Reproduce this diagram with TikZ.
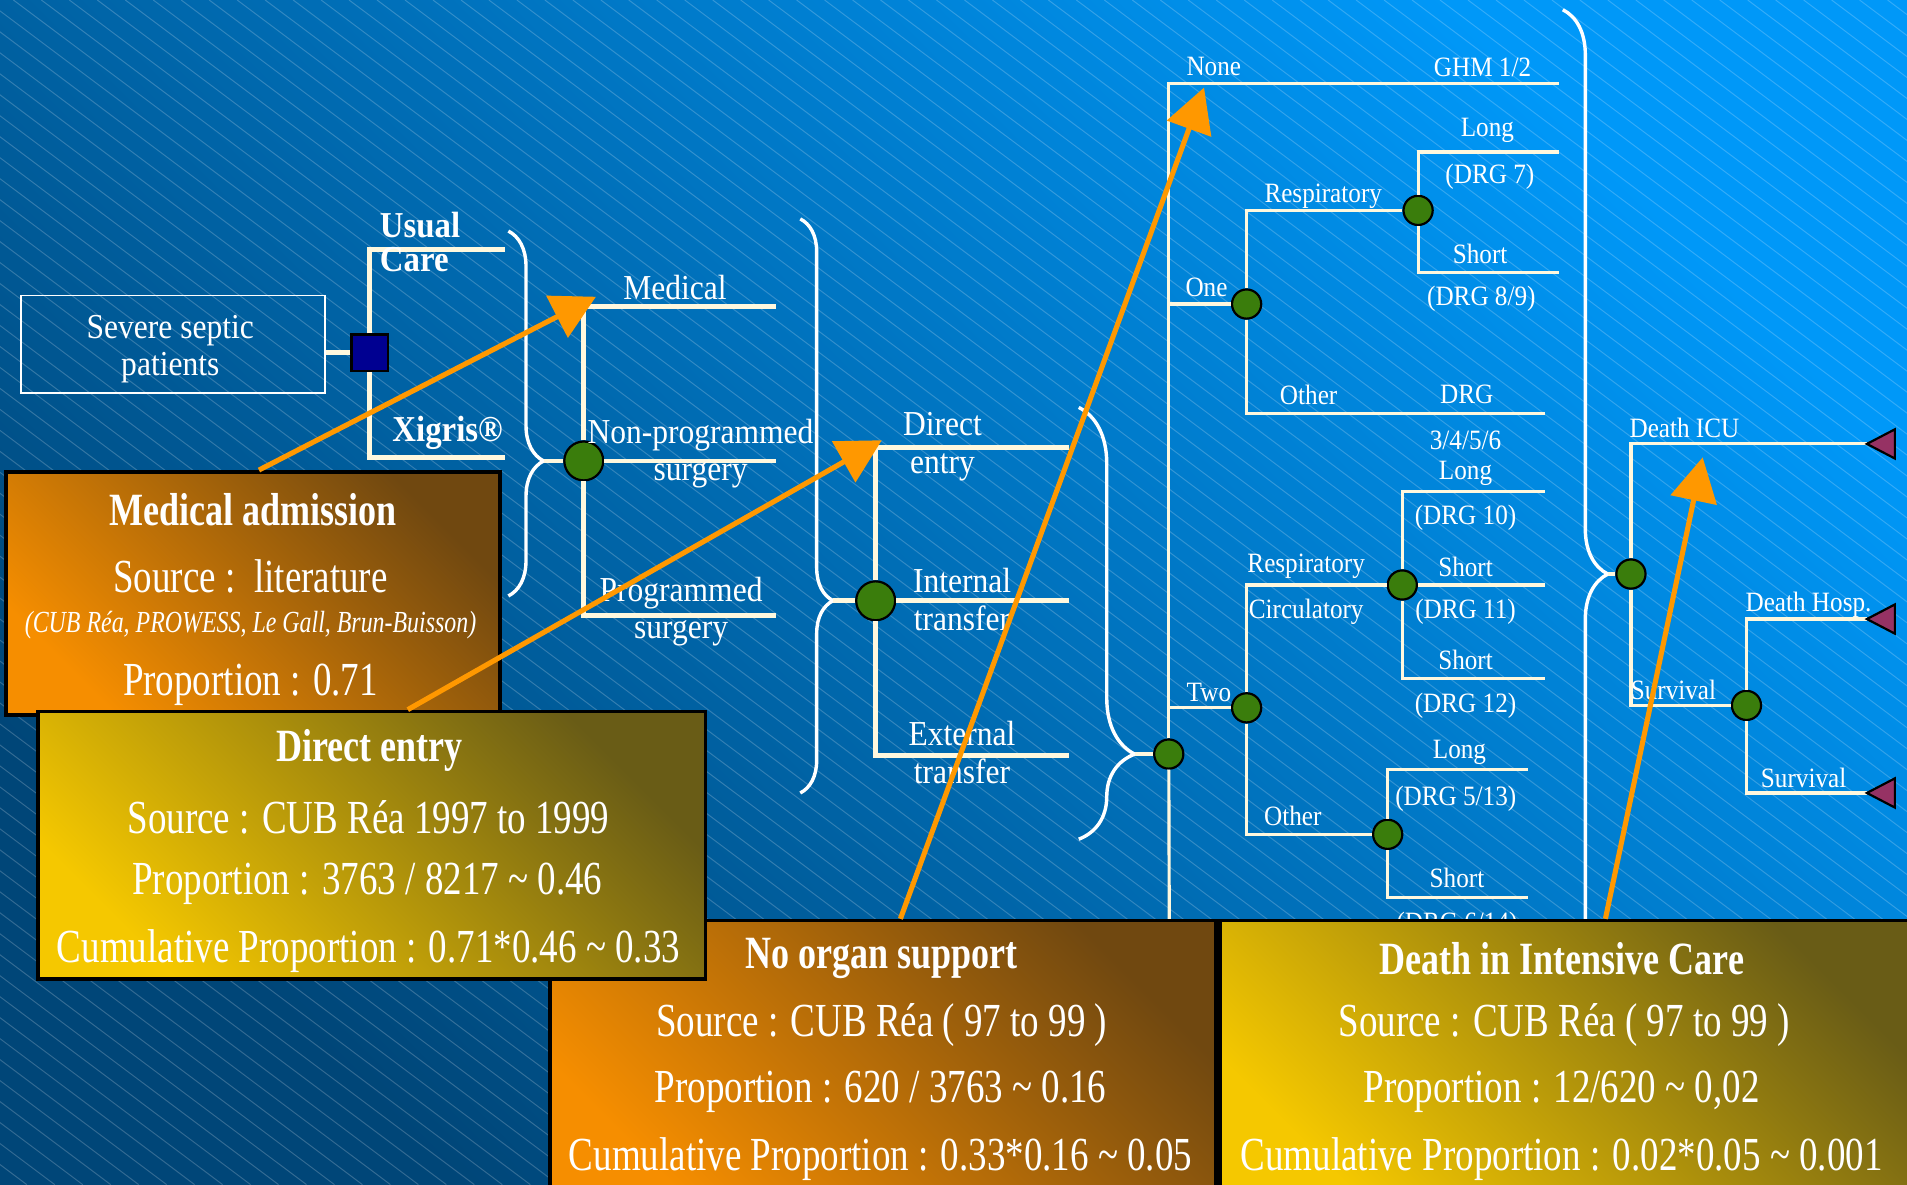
\documentclass[tikz,border=0pt]{standalone}
\usepackage{fontspec}
\setmainfont{Liberation Serif}[FakeStretch=0.9]
\newfontfamily\boxfont{Liberation Serif}[FakeStretch=0.78]
\usetikzlibrary{arrows.meta,calc,decorations.pathreplacing}

\definecolor{bgdark}{RGB}{0,70,120}
\definecolor{bglight}{RGB}{0,152,248}
\definecolor{cream}{RGB}{255,248,222}
\definecolor{nodegreen}{RGB}{58,125,12}
\definecolor{sqblue}{RGB}{0,0,145}
\definecolor{termpurple}{RGB}{150,50,100}
\definecolor{arrorange}{RGB}{255,152,0}
\definecolor{orglight}{RGB}{246,142,0}
\definecolor{orgdark}{RGB}{112,72,16}
\definecolor{yellight}{RGB}{245,200,0}
\definecolor{yeldark}{RGB}{105,92,22}
\newcommand{\tld}{\textasciitilde}

\begin{document}
\begin{tikzpicture}[
  x=0.5pt, y=-0.5pt,
  branch/.style={draw=cream, line width=2pt},
  twig/.style={draw=cream, line width=1.3pt},
  tbrace/.style={draw=white, line width=1.4pt, decorate},
  chance/.style={circle, fill=nodegreen, draw=black, line width=0.9pt, minimum size=16pt, inner sep=0pt},
  smallchance/.style={chance, minimum size=12pt},
  decision/.style={rectangle, fill=sqblue, draw=black, line width=0.9pt, minimum size=15pt, inner sep=0pt},
  terminal/.style={fill=termpurple, draw=black, line width=0.9pt},
  biglbl/.style={text=white, inner sep=0pt, align=center, font=\fontsize{14.4}{15.5}\selectfont},
  smalllbl/.style={text=white, inner sep=0pt, font=\fontsize{11.5}{13}\selectfont},
  infobox/.style={draw=black, line width=1.5pt, inner sep=0pt},
  orangebox/.style={infobox, top color=orgdark, bottom color=orglight, shading angle=-45},
  yellowbox/.style={infobox, top color=yeldark, bottom color=yellight, shading angle=-45},
  boxttl/.style={text=white, inner sep=0pt, font=\boxfont\bfseries\fontsize{19}{22}\selectfont},
  boxtxt/.style={text=white, inner sep=0pt, font=\boxfont\fontsize{19.5}{22}\selectfont},
  pointer/.style={draw=arrorange, line width=2.1pt, -{Triangle[length=18pt,width=19pt]}},
]

% background
\clip (0,0) rectangle (1568,974);
\shade [top color=bglight, bottom color=bgdark, shading angle=-45] (0,0) rectangle (1568,974);
\foreach \h in {-1300,-1277,...,1568}
	\draw [white, opacity=0.2, line width=0.4pt] (\h,0) -- ++(1299,974);

% treatment
\node [biglbl, draw=white, line width=0.7pt, minimum width=125pt, minimum height=40pt] (severe) at (142,283) {};
\node [biglbl] (lsevere) at (140,287) {Severe septic\\patients};
\node [decision] (sq) at (304,290) {};
\coordinate (usual) at (415,205);
\coordinate (xig) at (415,376);
\draw [branch] (sq) -- (sq -| severe.east);
\draw [branch] (sq) |- (usual);
\draw [branch] (sq) |- (xig);
\node [biglbl, font=\bfseries\fontsize{15}{14}\selectfont, align=left, anchor=west] (lusual) at (312,199) {Usual\\Care};
\node [biglbl, font=\bfseries\fontsize{15}{14}\selectfont] (lxig) at (368,356) {Xigris®};

% admission
\draw [tbrace, decoration={brace, amplitude=14.5pt, aspect=0.63}] (418,190) -- (418,490);
\coordinate (b1) at (447,379);
\node [chance] (n2) at (480,379) {};
\coordinate (medE) at (638,252);
\coordinate (npsE) at (638,379);
\coordinate (psE) at (638,506);
\draw [branch] (b1) -- (n2);
\draw [branch] (n2) |- (medE);
\draw [branch] (n2) -- (npsE);
\draw [branch] (n2) |- (psE);
\node [biglbl] (lmed) at (555,236) {Medical};
\node [biglbl] (lnps) at (576,373) {Non-programmed\\surgery};
\node [biglbl] (lps) at (560,503) {Programmed\\surgery};

% entry
\draw [tbrace, decoration={brace, amplitude=13.5pt, aspect=0.665}] (658,180) -- (658,652);
\coordinate (b2) at (685,494);
\node [chance] (n3) at (720,494) {};
\coordinate (dirE) at (879,368);
\coordinate (intE) at (879,494);
\coordinate (extE) at (879,621);
\draw [branch] (b2) -- (n3);
\draw [branch] (n3) |- (dirE);
\draw [branch] (n3) -- (intE);
\draw [branch] (n3) |- (extE);
\node [biglbl] (ldir) at (775,367) {Direct\\entry};
\node [biglbl] (lint) at (791,493) {Internal\\transfer};
\node [biglbl] (lext) at (791,619) {External\\transfer};

% organ support
\draw [tbrace, decoration={brace, amplitude=23pt, aspect=0.803}] (887,335) -- (887,690);
\coordinate (b3) at (933,620);
\node [smallchance] (n4) at (961,620) {};
\node [smallchance] (o1) at (1025,250) {};
\node [smallchance] (o2) at (1025,582) {};
\coordinate (noneE) at (1282,69);
\coordinate (threeE) at (962,960);
\draw [branch] (b3) -- (n4);
\draw [twig] (n4) |- (noneE);
\draw [twig] (n4) |- (o1);
\draw [twig] (n4) |- (o2);
\draw [twig] (n4) -- (threeE);
\node [smalllbl] (lnone) at (998,55) {None};
\node [smalllbl] (lghm) at (1219,55) {GHM 1/2};
\node [smalllbl] (lone) at (992,236) {One};
\node [smalllbl] (ltwo) at (994,569) {Two};

% one organ
\node [smallchance] (r1) at (1166,173) {};
\coordinate (oth1E) at (1270,340);
\coordinate (long1E) at (1282,125);
\coordinate (short1E) at (1282,224);
\draw [twig] (o1) |- (r1);
\draw [twig] (o1) |- (oth1E);
\draw [twig] (r1) |- (long1E);
\draw [twig] (r1) |- (short1E);
\node [smalllbl] (lresp1) at (1088,161) {Respiratory};
\node [smalllbl] (loth1) at (1076,325) {Other};
\node [smalllbl] (ldrg) at (1206,324) {DRG};
\node [smalllbl] (ldrg36) at (1205,362) {3/4/5/6};
\node [smalllbl] (llong1) at (1223,107) {Long};
\node [smalllbl] (ldrg7) at (1225,145) {(DRG 7)};
\node [smalllbl] (lshort1) at (1217,209) {Short};
\node [smalllbl] (ldrg89) at (1218,246) {(DRG 8/9)};

% two organs
\node [smallchance] (r2) at (1153,481) {};
\node [smallchance] (r3) at (1141,686) {};
\coordinate (long2E) at (1270,404);
\coordinate (short2E) at (1270,481);
\coordinate (short3E) at (1270,558);
\coordinate (long3E) at (1256,633);
\coordinate (short4E) at (1256,738);
\draw [twig] (o2) |- (r2);
\draw [twig] (o2) |- (r3);
\draw [twig] (r2) |- (long2E);
\draw [twig] (r2) -- (short2E);
\draw [twig] (r2) |- (short3E);
\draw [twig] (r3) |- (long3E);
\draw [twig] (r3) |- (short4E);
\node [smalllbl] (lresp2) at (1074,466) {Respiratory};
\node [smalllbl] (lcirc) at (1074,503) {Circulatory};
\node [smalllbl] (loth2) at (1063,671) {Other};
\node [smalllbl] (llong2) at (1205,389) {Long};
\node [smalllbl] (ldrg10) at (1205,426) {(DRG 10)};
\node [smalllbl] (lshort2) at (1205,466) {Short};
\node [smalllbl] (ldrg11) at (1205,503) {(DRG 11)};
\node [smalllbl] (lshort3) at (1205,543) {Short};
\node [smalllbl] (ldrg12) at (1205,580) {(DRG 12)};
\node [smalllbl] (llong3) at (1200,619) {Long};
\node [smalllbl] (ldrg513) at (1197,657) {(DRG 5/13)};
\node [smalllbl] (lshort4) at (1198,722) {Short};
\node [smalllbl] (ldrg614) at (1198,760) {(DRG 6/14)};

% outcome
\draw [tbrace, decoration={brace, amplitude=18.5pt, aspect=0.5}] (1285,8) -- (1285,936);
\coordinate (b4) at (1322,472);
\node [smallchance] (n5) at (1341,472) {};
\node [smallchance] (n6) at (1436,580) {};
\coordinate (d1) at (1535,365);
\coordinate (d2) at (1535,509);
\coordinate (d3) at (1535,652);
\draw [branch] (b4) -- (n5);
\draw [twig] (n5) |- (d1);
\draw [twig] (n5) |- (n6);
\draw [twig] (n6) |- (d2);
\draw [twig] (n6) |- (d3);
\path [terminal] (d1) -- ++(23,-12) -- ++(0,24) -- cycle;
\path [terminal] (d2) -- ++(23,-12) -- ++(0,24) -- cycle;
\path [terminal] (d3) -- ++(23,-12) -- ++(0,24) -- cycle;
\node [smalllbl] (ldicu) at (1385,352) {Death ICU};
\node [smalllbl] (lsurv1) at (1376,567) {Survival};
\node [smalllbl] (ldhosp) at (1487,497) {Death Hosp.};
\node [smalllbl] (lsurv2) at (1483,640) {Survival};

% data boxes
\node [orangebox, minimum width=203pt, minimum height=100pt] (medbox) at (208,488) {};
\node [boxttl] (tmed) at (208,419) {Medical admission};
\node [boxtxt] (smed) at (206,474) {Source :\ \ literature};
\node [boxtxt, font=\boxfont\itshape\fontsize{12.6}{14}\selectfont] (rmed) at (206,514) {(CUB Réa, PROWESS, Le Gall, Brun-Buisson)};
\node [boxtxt] (pmed) at (206,563) {Proportion : 0.71};

\node [orangebox, minimum width=274pt, minimum height=116.5pt] (orgbox) at (726,873.5) {};
\node [boxttl] (torg) at (725,788) {No organ support};
\node [boxtxt] (sorg) at (725,843) {Source : CUB Réa ( 97 to 99 )};
\node [boxtxt] (porg) at (724,898) {Proportion : 620 / 3763 \tld\ 0.16};
\node [boxtxt] (corg) at (724,953) {Cumulative Proportion : 0.33*0.16 \tld\ 0.05};

\node [yellowbox, minimum width=287pt, minimum height=116.5pt] (icubox) at (1290,873.5) {};
\node [boxttl] (ticu) at (1284,788) {Death in Intensive Care};
\node [boxtxt] (sicu) at (1286,843) {Source : CUB Réa ( 97 to 99 )};
\node [boxtxt] (picu) at (1284,898) {Proportion : 12/620 \tld\ 0,02};
\node [boxtxt] (cicu) at (1284,953) {Cumulative Proportion : 0.02*0.05 \tld\ 0.001};

\node [yellowbox, minimum width=274.5pt, minimum height=110pt] (dirbox) at (305.5,695) {};
\node [boxttl] (tdir) at (304,617) {Direct entry};
\node [boxtxt] (sdir) at (303,672) {Source : CUB Réa 1997 to 1999};
\node [boxtxt] (pdir) at (302,727) {Proportion : 3763 / 8217 \tld\ 0.46};
\node [boxtxt] (cdir) at (303,782) {Cumulative Proportion : 0.71*0.46 \tld\ 0.33};

% pointers
\coordinate (t1) at (490,244);
\coordinate (t2) at (725,362);
\coordinate (t3) at (990,72);
\coordinate (t4) at (1400,376);
\draw [pointer] ($(medbox.north west)!.512!(medbox.north east)$) -- (t1);
\draw [pointer] ($(dirbox.north west)!.554!(dirbox.north east)$) -- (t2);
\draw [pointer] ($(orgbox.north west)!.526!(orgbox.north east)$) -- (t3);
\draw [pointer] ($(icubox.north west)!.552!(icubox.north east)$) -- (t4);

\end{tikzpicture}
\end{document}
